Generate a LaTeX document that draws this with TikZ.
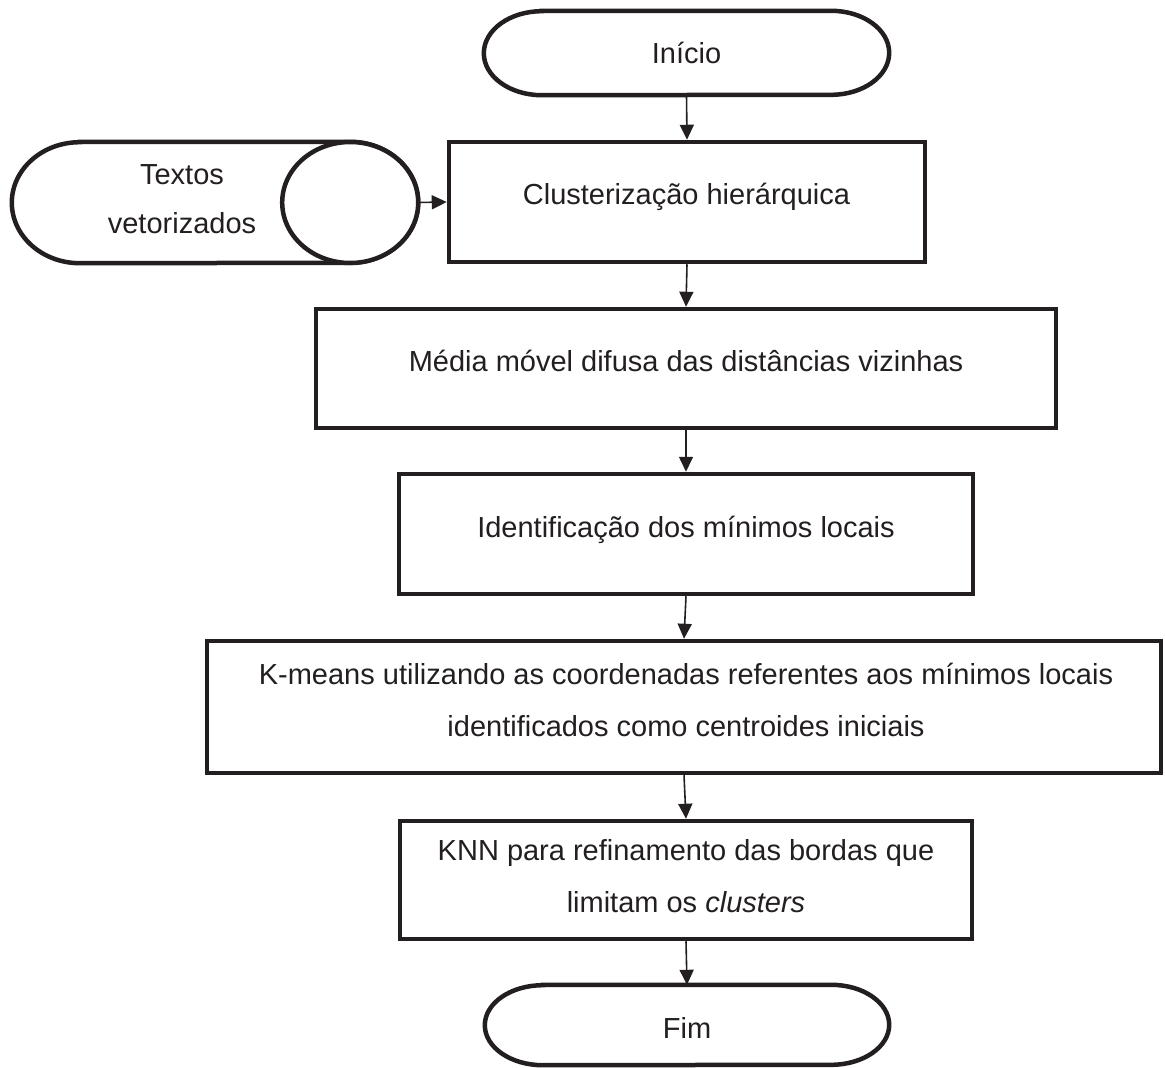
\documentclass[tikz,border=0pt]{standalone}
\usepackage{fontspec}
\setmainfont{Liberation Sans}
\usetikzlibrary{arrows.meta}
\definecolor{ink}{HTML}{231F20}
\begin{document}
\begin{tikzpicture}[x=1pt,y=-1pt,
  procbox/.style={rectangle,draw=ink,line width=4.5pt,fill=white,inner sep=0pt},
  frame/.style={rectangle,draw=none,inner sep=0pt},
  outline/.style={draw=ink,line width=4.5pt,fill=white},
  txt/.style={text=ink,font=\fontsize{29}{35}\selectfont,inner sep=0pt,anchor=base},
  flow/.style={draw=ink,line width=1.6pt,-{Triangle[length=15pt,width=14pt]}}]
\useasboundingbox (0,0) rectangle (1165,1068);

% terminators and stored-data frames
\node[frame,minimum width=405pt,minimum height=84pt] (start) at (686.5,53) {};
\node[frame,minimum width=404pt,minimum height=80pt] (stop) at (687,1025) {};
\node[frame,minimum width=406pt,minimum height=121pt] (store) at (215,202.5) {};

% process boxes
\node[procbox,minimum width=476pt,minimum height=120pt] (clust) at (687,202) {};
\node[procbox,minimum width=740pt,minimum height=119pt] (media) at (686,368.5) {};
\node[procbox,minimum width=574pt,minimum height=120pt] (ident) at (686,534) {};
\node[procbox,minimum width=954pt,minimum height=132pt] (kmeans) at (684,707) {};
\node[procbox,minimum width=572pt,minimum height=118pt] (knn) at (686,880) {};

% start terminator
\path[outline] ([xshift=58pt]start.north west) -- ([xshift=-58pt]start.north east)
  arc[start angle=90,end angle=-90,x radius=58pt,y radius=42pt]
  -- ([xshift=58pt]start.south west)
  arc[start angle=270,end angle=90,x radius=58pt,y radius=42pt] -- cycle;
% end terminator
\path[outline] ([xshift=58pt]stop.north west) -- ([xshift=-58pt]stop.north east)
  arc[start angle=90,end angle=-90,x radius=58pt,y radius=40pt]
  -- ([xshift=58pt]stop.south west)
  arc[start angle=270,end angle=90,x radius=58pt,y radius=40pt] -- cycle;
% horizontal cylinder (stored data)
\path[outline] ([xshift=68pt]store.north west) -- ([xshift=-68pt]store.north east)
  arc[start angle=90,end angle=-90,x radius=68pt,y radius=60.5pt]
  -- ([xshift=68pt]store.south west)
  arc[start angle=270,end angle=90,x radius=68pt,y radius=60.5pt] -- cycle;
\draw[outline] ([xshift=-68pt]store.east) ellipse [x radius=68pt,y radius=60.5pt];

% labels
\node[txt] (start-t) at (686.5,63) {Início};
\node[txt] (store-t1) at (182,184) {Textos};
\node[txt] (store-t2) at (182,233) {vetorizados};
\node[txt] (clust-t) at (686.5,204) {Clusterização hierárquica};
\node[txt] (media-t) at (686,371) {Média móvel difusa das distâncias vizinhas};
\node[txt] (ident-t) at (686,537) {Identificação dos mínimos locais};
\node[txt] (kmeans-t1) at (686,684) {K-means utilizando as coordenadas referentes aos mínimos locais};
\node[txt] (kmeans-t2) at (686,736) {identificados como centroides iniciais};
\node[txt] (knn-t1) at (686,860) {KNN para refinamento das bordas que};
\node[txt] (knn-t2) at (686,912) {limitam os \textit{clusters}};
\node[txt] (stop-t) at (687,1038) {Fim};

% connectors
\draw[flow] (start.south) -- (clust.north);
\draw[flow] (store.east) -- (clust.west);
\draw[flow] (clust.south) -- (media.north);
\draw[flow] (media.south) -- (ident.north);
\draw[flow] (ident.south) -- (kmeans.north);
\draw[flow] (kmeans.south) -- (knn.north);
\draw[flow] (knn.south) -- (stop.north);
\end{tikzpicture}
\end{document}
